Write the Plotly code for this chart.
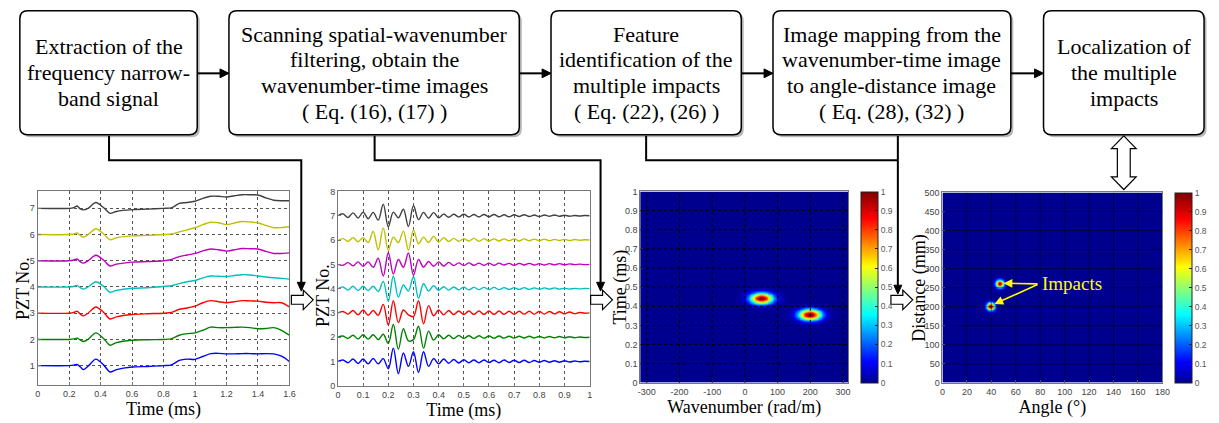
import numpy as np
import plotly.graph_objects as go

W, H = 1219, 423
SERIF = "Liberation Serif, Times New Roman, serif"
SANS = "Liberation Sans, Arial, sans-serif"

# ---------------- data ----------------
box_lines = [
    ["Extraction of the", "frequency narrow-", "band signal"],
    ["Scanning spatial-wavenumber", "filtering, obtain the", "wavenumber-time images", "( Eq. (16), (17) )"],
    ["Feature", "identification of the", "multiple impacts", "( Eq. (22), (26) )"],
    ["Image mapping from the", "wavenumber-time image", "to angle-distance image", "( Eq. (28), (32) )"],
    ["Localization of", "the multiple", "impacts"],
]

pzt_numbers = [1, 2, 3, 4, 5, 6, 7]
pzt_colors = ["#0000ff", "#008000", "#ff0000", "#00bfbf", "#bf00bf", "#bfbf00", "#404040"]

# panel 1: raw signals (offset from PZT baseline)
raw_time = [0, 0.2, 0.23, 0.25, 0.27, 0.29, 0.32, 0.37, 0.42, 0.46, 0.5, 0.6, 0.7, 0.8, 0.85,
            0.9, 0.95, 1.0, 1.05, 1.1, 1.15, 1.2, 1.25, 1.3, 1.35, 1.4, 1.45, 1.5, 1.55, 1.6]
raw_pzt1 = [0, 0, 0.02, 0.05, -0.04, -0.15, -0.02, 0.25, 0.02, -0.24, -0.15, -0.05, -0.03, 0.0, 0.03,
            0.2, 0.25, 0.24, 0.35, 0.46, 0.47, 0.45, 0.45, 0.46, 0.46, 0.45, 0.46, 0.45, 0.36, 0.16]
raw_pzt2 = [0, 0, 0.02, 0.05, -0.02, -0.08, 0.0, 0.25, 0.03, -0.22, -0.12, -0.03, -0.01, 0.0, 0.02,
            0.16, 0.22, 0.25, 0.35, 0.47, 0.45, 0.45, 0.46, 0.47, 0.45, 0.41, 0.42, 0.45, 0.35, 0.16]
raw_pzt3 = [0, 0, 0.03, 0.08, -0.03, -0.1, 0.0, 0.24, 0.03, -0.22, -0.14, -0.05, -0.02, 0.0, 0.03,
            0.15, 0.2, 0.27, 0.4, 0.48, 0.44, 0.4, 0.44, 0.48, 0.47, 0.46, 0.42, 0.4, 0.4, 0.24]
raw_pzt4 = [0, 0, 0.02, 0.06, -0.02, -0.08, 0.0, 0.2, 0.02, -0.2, -0.13, -0.05, -0.03, 0.02, 0.05,
            0.13, 0.2, 0.25, 0.35, 0.42, 0.41, 0.4, 0.44, 0.47, 0.46, 0.42, 0.38, 0.35, 0.33, 0.3]
raw_pzt5 = [0, 0, 0.03, 0.07, -0.03, -0.09, 0.0, 0.21, 0.02, -0.2, -0.13, -0.05, -0.03, 0.0, 0.05,
            0.16, 0.22, 0.28, 0.38, 0.45, 0.42, 0.37, 0.42, 0.47, 0.46, 0.45, 0.36, 0.28, 0.28, 0.3]
raw_pzt6 = [0, 0, 0.02, 0.06, -0.03, -0.1, 0.0, 0.22, 0.02, -0.2, -0.12, -0.05, -0.03, 0.0, 0.02,
            0.1, 0.18, 0.26, 0.38, 0.47, 0.45, 0.38, 0.44, 0.5, 0.48, 0.44, 0.35, 0.26, 0.27, 0.3]
raw_pzt7 = [0, 0, 0.03, 0.09, -0.02, -0.06, 0.0, 0.22, 0.02, -0.19, -0.12, -0.05, -0.03, 0.0, 0.02,
            0.19, 0.22, 0.27, 0.38, 0.46, 0.46, 0.43, 0.48, 0.52, 0.52, 0.51, 0.4, 0.31, 0.29, 0.29]
raw_signals = [raw_pzt1, raw_pzt2, raw_pzt3, raw_pzt4, raw_pzt5, raw_pzt6, raw_pzt7]

# panel 2: narrow-band signals (offset from PZT baseline), sampled every 0.02 ms
nb_time = [round(0.02 * k, 2) for k in range(51)]
nb_pzt1 = [0.0, 0.06, -0.05, 0.1, -0.08, 0.1, -0.1, 0.12, -0.1, 0.12, -0.3, 0.55, -0.5, 0.35, -0.2, 0.4, -0.45, 0.4, -0.2, 0.12, -0.1,
           0.1, -0.07, 0.08, -0.06, 0.07, -0.05, 0.06, -0.05, 0.06, -0.04, 0.05, -0.05, 0.06, -0.04, 0.05, -0.04, 0.05, -0.04, 0.04, -0.03, 0.04, -0.03, 0.03, -0.03, 0.03, -0.02, 0.02, -0.01, 0.01, 0.0]
nb_pzt2 = [0.0, 0.05, -0.05, 0.08, -0.07, 0.1, -0.08, 0.1, -0.1, 0.12, -0.25, 0.52, -0.5, 0.35, -0.15, -0.1, 0.45, -0.45, 0.25, -0.12, 0.1,
           -0.07, 0.08, -0.06, 0.07, -0.05, 0.06, -0.05, 0.06, -0.04, 0.05, -0.04, 0.05, -0.04, 0.04, -0.04, 0.04, -0.03, 0.04, -0.03, 0.03, -0.03, 0.03, -0.02, 0.03, -0.02, 0.02, -0.02, 0.01, -0.01, 0.0]
nb_pzt3 = [0.0, 0.06, -0.05, 0.1, -0.08, 0.12, -0.1, 0.1, -0.1, 0.35, -0.5, 0.5, -0.4, 0.12, -0.08, -0.15, 0.5, -0.45, 0.3, -0.12, 0.12,
           -0.08, 0.1, -0.07, 0.08, -0.07, 0.08, -0.06, 0.08, -0.06, 0.08, -0.06, 0.08, -0.06, 0.07, -0.06, 0.07, -0.05, 0.07, -0.05, 0.06, -0.05, 0.06, -0.04, 0.05, -0.04, 0.04, -0.03, 0.02, -0.01, 0.0]
nb_pzt4 = [0.0, 0.07, -0.06, 0.1, -0.08, 0.1, -0.08, 0.1, -0.12, 0.3, -0.52, 0.52, -0.35, 0.15, -0.1, 0.5, -0.4, 0.2, -0.1, 0.12, -0.07,
           0.08, -0.06, 0.07, -0.05, 0.06, -0.05, 0.05, -0.04, 0.05, -0.04, 0.05, -0.04, 0.04, -0.03, 0.04, -0.03, 0.04, -0.03, 0.03, -0.03, 0.03, -0.02, 0.03, -0.02, 0.02, -0.02, 0.01, -0.01, 0.01, 0.0]
nb_pzt5 = [0.0, -0.04, 0.07, -0.06, 0.1, -0.08, 0.1, -0.12, 0.25, -0.48, 0.48, -0.4, 0.2, -0.12, 0.47, -0.45, 0.2, -0.12, 0.12, -0.08, 0.1,
           -0.07, 0.08, -0.05, 0.06, -0.05, 0.06, -0.04, 0.05, -0.04, 0.05, -0.04, 0.05, -0.03, 0.04, -0.04, 0.04, -0.03, 0.04, -0.03, 0.03, -0.03, 0.03, -0.02, 0.03, -0.02, 0.02, -0.01, 0.01, -0.01, 0.0]
nb_pzt6 = [-0.02, 0.06, -0.06, 0.1, -0.07, 0.1, -0.1, 0.35, -0.4, 0.5, -0.42, 0.12, -0.1, 0.37, -0.42, 0.42, -0.15, 0.12, -0.1, 0.15, -0.08,
           0.1, -0.06, 0.07, -0.05, 0.06, -0.04, 0.07, -0.05, 0.06, -0.04, 0.05, -0.04, 0.05, -0.03, 0.05, -0.04, 0.05, -0.03, 0.04, -0.03, 0.04, -0.03, 0.03, -0.02, 0.03, -0.02, 0.02, -0.01, 0.01, 0.0]
nb_pzt7 = [0.0, 0.08, -0.07, 0.12, -0.09, 0.15, -0.12, 0.14, -0.18, 0.48, -0.45, 0.15, -0.08, 0.27, -0.44, 0.42, -0.16, 0.14, -0.1, 0.13, -0.08,
           0.07, -0.06, 0.06, -0.05, 0.06, -0.05, 0.05, -0.05, 0.05, -0.04, 0.05, -0.04, 0.04, -0.04, 0.04, -0.03, 0.04, -0.03, 0.03, -0.03, 0.03, -0.02, 0.03, -0.02, 0.02, -0.02, 0.01, -0.01, 0.01, 0.0]
nb_signals = [nb_pzt1, nb_pzt2, nb_pzt3, nb_pzt4, nb_pzt5, nb_pzt6, nb_pzt7]

# panel 3: wavenumber-time image peaks
wt_peak_k = [50, 198]          # rad/m
wt_peak_t = [0.442, 0.357]     # ms
wt_peak_amp = [1.0, 1.0]
wt_sigma_k = 24.0
wt_sigma_t = 0.02

# panel 4: angle-distance image peaks
ad_peak_angle = [46.8, 39.3]   # deg
ad_peak_dist = [260.5, 201.0]  # mm
ad_peak_amp = [1.0, 1.0]
ad_sigma_angle = 2.3
ad_sigma_dist = 7.0

p1_xticks = [0, 0.2, 0.4, 0.6, 0.8, 1, 1.2, 1.4, 1.6]
p1_yticks = [1, 2, 3, 4, 5, 6, 7]
p2_xticks = [0, 0.1, 0.2, 0.3, 0.4, 0.5, 0.6, 0.7, 0.8, 0.9, 1]
p2_yticks = [0, 1, 2, 3, 4, 5, 6, 7, 8]
p3_xticks = [-300, -200, -100, 0, 100, 200, 300]
p3_yticks = [0, 0.1, 0.2, 0.3, 0.4, 0.5, 0.6, 0.7, 0.8, 0.9, 1]
p4_xticks = [0, 20, 40, 60, 80, 100, 120, 140, 160, 180]
p4_yticks = [0, 50, 100, 150, 200, 250, 300, 350, 400, 450, 500]
cbar_ticks = [0, 0.1, 0.2, 0.3, 0.4, 0.5, 0.6, 0.7, 0.8, 0.9, 1]

jet = [[0.0, "rgb(0,0,143)"], [0.11, "rgb(0,0,255)"], [0.36, "rgb(0,255,255)"],
       [0.61, "rgb(255,255,0)"], [0.86, "rgb(255,0,0)"], [1.0, "rgb(128,0,0)"]]

# ---------------- helpers ----------------
def fx(x):
    return x / W

def fy(y):
    return 1 - y / H

def path(pts, close=True):
    s = "M %.5f,%.5f " % (fx(pts[0][0]), fy(pts[0][1]))
    for p in pts[1:]:
        s += "L %.5f,%.5f " % (fx(p[0]), fy(p[1]))
    return s + ("Z" if close else "")

def rrect(x0, y0, x1, y1, r):
    P = lambda x, y: "%.5f,%.5f" % (fx(x), fy(y))
    return ("M " + P(x0 + r, y0) + " L " + P(x1 - r, y0) + " Q " + P(x1, y0) + " " + P(x1, y0 + r) +
            " L " + P(x1, y1 - r) + " Q " + P(x1, y1) + " " + P(x1 - r, y1) +
            " L " + P(x0 + r, y1) + " Q " + P(x0, y1) + " " + P(x0, y1 - r) +
            " L " + P(x0, y0 + r) + " Q " + P(x0, y0) + " " + P(x0 + r, y0) + " Z")

def dom_x(a, b):
    return [a / W, b / W]

def dom_y(top, bottom):
    return [1 - bottom / H, 1 - top / H]

fig = go.Figure()

# ---------------- panel 1 ----------------
for n, sig, col in zip(pzt_numbers, raw_signals, pzt_colors):
    fig.add_trace(go.Scatter(x=raw_time, y=[n + v for v in sig], mode="lines",
                             line=dict(color=col, width=1.4, shape="spline", smoothing=0.8),
                             xaxis="x", yaxis="y", showlegend=False, hoverinfo="skip"))
# ---------------- panel 2 ----------------
for n, sig, col in zip(pzt_numbers, nb_signals, pzt_colors):
    fig.add_trace(go.Scatter(x=nb_time, y=[n + v for v in sig], mode="lines",
                             line=dict(color=col, width=1.4, shape="spline", smoothing=1.0),
                             xaxis="x2", yaxis="y2", showlegend=False, hoverinfo="skip"))

# ---------------- panel 3 ----------------
k_grid = np.arange(-320, 316.1, 2.5)
t_grid = np.arange(0, 1.0001, 0.004)
KK, TT = np.meshgrid(k_grid, t_grid)
Z3 = np.zeros_like(KK)
for kc, tc, a in zip(wt_peak_k, wt_peak_t, wt_peak_amp):
    Z3 = np.maximum(Z3, a * np.exp(-((KK - kc) ** 2 / (2 * wt_sigma_k ** 2) + (TT - tc) ** 2 / (2 * wt_sigma_t ** 2))))

def cbar(x0, top, bottom):
    return dict(x=x0 / W, xanchor="left", y=1 - (top + bottom) / 2 / H, yanchor="middle",
                len=(bottom - top) / H, lenmode="fraction", thickness=17, thicknessmode="pixels",
                outlinewidth=1, outlinecolor="#222", xpad=0, ypad=0,
                tickvals=cbar_ticks, ticktext=[("%g" % v) for v in cbar_ticks],
                tickfont=dict(family=SANS, size=8.5, color="#555"), ticks="inside", ticklen=3,
                tickcolor="#222")

fig.add_trace(go.Heatmap(x=k_grid, y=t_grid, z=Z3, zmin=0, zmax=1, colorscale=jet, zsmooth="best",
                         xaxis="x3", yaxis="y3", colorbar=cbar(866, 191, 387), hoverinfo="skip"))

# ---------------- panel 4 ----------------
a_grid = np.arange(0, 180.01, 0.5)
d_grid = np.arange(0, 500.01, 1.5)
AA, DD = np.meshgrid(a_grid, d_grid)
Z4 = np.zeros_like(AA)
for ac, dc, a in zip(ad_peak_angle, ad_peak_dist, ad_peak_amp):
    Z4 = np.maximum(Z4, a * np.exp(-((AA - ac) ** 2 / (2 * ad_sigma_angle ** 2) + (DD - dc) ** 2 / (2 * ad_sigma_dist ** 2))))
fig.add_trace(go.Heatmap(x=a_grid, y=d_grid, z=Z4, zmin=0, zmax=1, colorscale=jet, zsmooth="best",
                         xaxis="x4", yaxis="y4", colorbar=cbar(1183, 192, 387), hoverinfo="skip"))

# ---------------- axes ----------------
tickfont = dict(family=SANS, size=9, color="#444")
titlefont = dict(family=SERIF, size=18, color="black")

def ax(domain, rng, ticks, title, anchor, grid=True, griddash="dot", gridcolor="#555", standoff=2):
    d = dict(domain=domain, range=rng, tickvals=ticks, ticktext=[("%g" % v) for v in ticks],
             tickfont=tickfont, showline=True, mirror=True, linecolor="#777", linewidth=1,
             ticks="inside", ticklen=3, tickcolor="#777", showgrid=grid, gridcolor=gridcolor,
             griddash=griddash, gridwidth=1, zeroline=False, anchor=anchor,
             title=dict(text=title, font=titlefont, standoff=standoff), fixedrange=True)
    return d

fig.update_layout(
    xaxis=ax(dom_x(35, 289), [0, 1.6], p1_xticks, "Time (ms)", "y"),
    yaxis=ax(dom_y(190, 389), [0.27, 7.68], p1_yticks, "", "x"),
    xaxis2=ax(dom_x(338, 592), [0, 1], p2_xticks, "Time (ms)", "y2"),
    yaxis2=ax(dom_y(191, 390), [0, 8], p2_yticks, "", "x2", grid=False),
    xaxis3=ax(dom_x(643, 853), [-320, 316], p3_xticks, "Wavenumber (rad/m)", "y3", grid=False),
    yaxis3=ax(dom_y(191, 387), [0, 1], p3_yticks, "", "x3", grid=False),
    xaxis4=ax(dom_x(948, 1170), [0, 180], p4_xticks, "Angle (°)", "y4", grid=False),
    yaxis4=ax(dom_y(192, 387), [0, 500], p4_yticks, "", "x4", grid=False),
)

shapes = []
# grid lines drawn over the images
for v in p3_xticks:
    shapes.append(dict(type="line", xref="x3", yref="y3", x0=v, x1=v, y0=0, y1=1, layer="above",
                       line=dict(color="black", width=1, dash="dot")))
for v in p3_yticks[1:-1]:
    shapes.append(dict(type="line", xref="x3", yref="y3", x0=-320, x1=316, y0=v, y1=v, layer="above",
                       line=dict(color="black", width=1, dash="dot")))
for v in p4_xticks[1:-1]:
    shapes.append(dict(type="line", xref="x4", yref="y4", x0=v, x1=v, y0=0, y1=500, layer="above",
                       line=dict(color="rgba(0,0,0,0.45)", width=1)))
for v in p4_yticks[1:-1]:
    shapes.append(dict(type="line", xref="x4", yref="y4", x0=0, x1=180, y0=v, y1=v, layer="above",
                       line=dict(color="rgba(0,0,0,0.45)", width=1)))

# flowchart boxes
boxes = [(17, 6, 196, 133), (228, 6, 521, 133), (553, 6, 745, 133), (777, 6, 1017, 133), (1050, 6, 1212, 133)]
for (x0, y0, x1, y1) in boxes:
    shapes.append(dict(type="path", xref="paper", yref="paper", path=rrect(x0 + 2.5, y0 + 2.5, x1 + 2.5, y1 + 2.5, 8),
                       fillcolor="rgba(0,0,0,0.28)", line=dict(width=0), layer="above"))
    shapes.append(dict(type="path", xref="paper", yref="paper", path=rrect(x0, y0, x1, y1, 8),
                       fillcolor="white", line=dict(color="black", width=1.5), layer="above"))

def black_line(pts):
    shapes.append(dict(type="path", xref="paper", yref="paper", path=path(pts, close=False),
                       line=dict(color="black", width=2), layer="above"))

def tri(pts):
    shapes.append(dict(type="path", xref="paper", yref="paper", path=path(pts),
                       fillcolor="black", line=dict(color="black", width=1), layer="above"))

# horizontal arrows between boxes
for i in range(len(boxes) - 1):
    xa = boxes[i][2]
    xb = boxes[i + 1][0]
    black_line([(xa, 70), (xb - 8, 70)])
    tri([(xb - 9, 65.5), (xb, 70), (xb - 9, 74.5)])

# connectors from boxes down to panels
black_line([(107, 134), (107, 159), (301, 159), (301, 284)])
tri([(297, 284), (305, 284), (301, 293)])
black_line([(375, 134), (375, 159), (603, 159), (603, 284)])
tri([(599, 284), (607, 284), (603, 293)])
black_line([(649, 134), (649, 159), (903, 159)])
black_line([(903, 134), (903, 287)])
tri([(899, 287), (907, 287), (903, 296)])

# hollow arrows between panels
def hollow_right(x0, x1, c, h1=4.5, h2=10, L=10):
    shapes.append(dict(type="path", xref="paper", yref="paper",
                       path=path([(x0, c - h1), (x1 - L, c - h1), (x1 - L, c - h2), (x1, c),
                                  (x1 - L, c + h2), (x1 - L, c + h1), (x0, c + h1)]),
                       fillcolor="white", line=dict(color="black", width=1.2), layer="above"))

hollow_right(291, 313, 302)
hollow_right(593, 615, 302)
hollow_right(896, 918, 302)

# double hollow arrow box5 <-> panel 4
cx, y0, y1, h1, h2, L = 1131, 134, 189, 6.5, 12.5, 13
shapes.append(dict(type="path", xref="paper", yref="paper",
                   path=path([(cx, y0), (cx + h2, y0 + L), (cx + h1, y0 + L), (cx + h1, y1 - L), (cx + h2, y1 - L),
                              (cx, y1), (cx - h2, y1 - L), (cx - h1, y1 - L), (cx - h1, y0 + L), (cx - h2, y0 + L)]),
                   fillcolor="white", line=dict(color="black", width=1.2), layer="above"))

annotations = []
LINE_GAP = 26.5
for b, lines in zip(boxes, box_lines):
    cxx = (b[0] + b[2]) / 2
    cyy = 69.5
    n = len(lines)
    for i, ln in enumerate(lines):
        yy = cyy + (i - (n - 1) / 2) * LINE_GAP
        annotations.append(dict(xref="paper", yref="paper", x=fx(cxx), y=fy(yy), text=ln, showarrow=False,
                                xanchor="center", yanchor="middle", align="center",
                                font=dict(family="Liberation Serif", size=22, color="black")))

# y-axis titles
for txt, xc, yc in [("PZT No.", 20, 290), ("PZT No.", 323, 298), ("Time (ms)", 623, 289), ("Distance (mm)", 924, 290)]:
    annotations.append(dict(xref="paper", yref="paper", x=fx(xc), y=fy(yc), text=txt, showarrow=False,
                            textangle=-90, xanchor="center", yanchor="middle", font=titlefont))

# "Impacts" label with arrows
annotations.append(dict(xref="x4", yref="y4", x=80, y=262, text="Impacts", showarrow=False, xanchor="left",
                        yanchor="middle", font=dict(family=SERIF, size=19, color="#ffff00")))
for ac, dc in zip(ad_peak_angle, ad_peak_dist):
    annotations.append(dict(xref="x4", yref="y4", axref="x4", ayref="y4", x=ac + 3.2, y=dc + 1 if dc > 230 else dc + 6,
                            ax=79, ay=260, text="", showarrow=True, arrowhead=2, arrowsize=1.1,
                            arrowwidth=1.6, arrowcolor="#ffff00"))

fig.update_layout(width=W, height=H, margin=dict(l=0, r=0, t=0, b=0), paper_bgcolor="white",
                  plot_bgcolor="white", showlegend=False, shapes=shapes, annotations=annotations)

fig.write_html("out.html")
